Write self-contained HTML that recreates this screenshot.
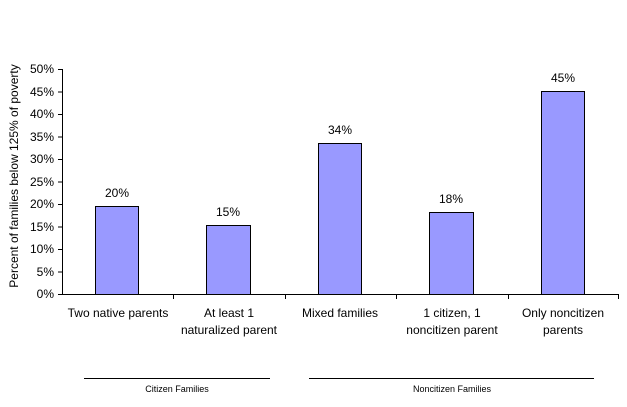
<!DOCTYPE html>
<html><head><style>body{margin:0;background:#fff}</style></head><body>
<svg width="627" height="402" xmlns="http://www.w3.org/2000/svg" font-family="Liberation Sans, Arial, sans-serif" font-size="12">
<rect width="627" height="402" fill="#fff"/>
<g stroke="#000" stroke-width="1">
<line x1="62.5" y1="69" x2="62.5" y2="295"/>
<line x1="62" y1="294.5" x2="619" y2="294.5"/>
<line x1="58" y1="69.5" x2="62" y2="69.5"/>
<line x1="58" y1="92" x2="62" y2="92"/>
<line x1="58" y1="114.5" x2="62" y2="114.5"/>
<line x1="58" y1="137" x2="62" y2="137"/>
<line x1="58" y1="159.5" x2="62" y2="159.5"/>
<line x1="58" y1="182" x2="62" y2="182"/>
<line x1="58" y1="204.5" x2="62" y2="204.5"/>
<line x1="58" y1="227" x2="62" y2="227"/>
<line x1="58" y1="249.5" x2="62" y2="249.5"/>
<line x1="58" y1="272" x2="62" y2="272"/>
<line x1="58" y1="294.5" x2="62" y2="294.5"/>
<line x1="173.5" y1="294" x2="173.5" y2="299"/>
<line x1="285.5" y1="294" x2="285.5" y2="299"/>
<line x1="396.5" y1="294" x2="396.5" y2="299"/>
<line x1="508.5" y1="294" x2="508.5" y2="299"/>
<line x1="618.5" y1="294" x2="618.5" y2="299"/>
<line x1="84" y1="378.5" x2="270" y2="378.5"/>
<line x1="309" y1="378.5" x2="594" y2="378.5"/>
</g>
<g fill="#9999ff" stroke="#000" stroke-width="1">
<rect x="95.5" y="206.5" width="43" height="88"/>
<rect x="206.5" y="225.5" width="44" height="69"/>
<rect x="318.5" y="143.5" width="43" height="151"/>
<rect x="429.5" y="212.5" width="44" height="82"/>
<rect x="541.5" y="91.5" width="43" height="203"/>
</g>
<g text-anchor="end">
<text x="54" y="73">50%</text><text x="54" y="96">45%</text><text x="54" y="118">40%</text>
<text x="54" y="141">35%</text><text x="54" y="163">30%</text><text x="54" y="186">25%</text>
<text x="54" y="208">20%</text><text x="54" y="231">15%</text><text x="54" y="253">10%</text>
<text x="54" y="276">5%</text><text x="54" y="298">0%</text>
</g>
<text transform="translate(18,176) rotate(-90)" text-anchor="middle">Percent of families below 125% of poverty</text>
<g text-anchor="middle">
<text x="117" y="197">20%</text><text x="228" y="216">15%</text><text x="340" y="134">34%</text>
<text x="451" y="203">18%</text><text x="563" y="82">45%</text>
<text x="118" y="317">Two native parents</text>
<text x="229" y="317">At least 1</text><text x="229" y="334">naturalized parent</text>
<text x="340" y="317">Mixed families</text>
<text x="452" y="317">1 citizen, 1</text><text x="452" y="334">noncitizen parent</text>
<text x="563" y="317">Only noncitizen</text><text x="563" y="334">parents</text>
<text x="177" y="392" font-size="9">Citizen Families</text>
<text x="452" y="392" font-size="9">Noncitizen Families</text>
</g>
</svg>
</body></html>
